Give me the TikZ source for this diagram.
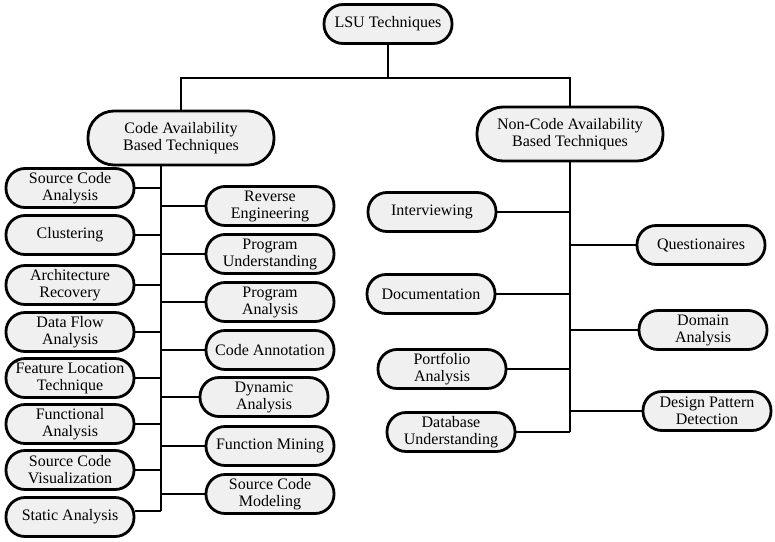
\documentclass[tikz,border=0pt]{standalone}
\usepackage{fontspec}
\setmainfont{Liberation Serif}
\usetikzlibrary{positioning}

\begin{document}
\begin{tikzpicture}[
  x=1pt, y=-1pt,
  line width=2.8pt,
  technique/.style={draw, fill=gray!12, rounded corners=19pt, minimum width=128pt, minimum height=39pt, inner sep=1pt, align=center, font=\fontsize{16}{17}\selectfont},
  group/.style={technique, minimum width=186pt, minimum height=54pt, rounded corners=26pt}
]
\useasboundingbox (0,0) rectangle (775,541);

\node[technique] (lsu) at (388,24) {LSU Techniques};
\node[group] (code) at (181,138) {Code Availability\\Based Techniques};
\node[group] (noncode) at (570,134) {Non-Code Availability\\Based Techniques};

\node[technique] (sca) at (70,188) {Source Code\\Analysis};
\node[technique] (clu) at (70,235) {Clustering};
\node[technique] (arc) at (70,285) {Architecture\\Recovery};
\node[technique] (dfa) at (70,332) {Data Flow\\Analysis};
\node[technique] (flt) at (70,378) {Feature Location\\Technique};
\node[technique] (fua) at (70,424) {Functional\\Analysis};
\node[technique] (scv) at (70,470) {Source Code\\Visualization};
\node[technique] (sta) at (70,517) {Static Analysis};

\node[technique] (rev) at (270,206) {Reverse\\Engineering};
\node[technique] (pru) at (270,254) {Program\\Understanding};
\node[technique] (pra) at (270,302) {Program\\Analysis};
\node[technique] (ann) at (270,350) {Code Annotation};
\node[technique] (dyn) at (264,397) {Dynamic\\Analysis};
\node[technique] (fmi) at (270,446) {Function Mining};
\node[technique] (scm) at (270,494) {Source Code\\Modeling};

\node[technique] (int) at (432,212) {Interviewing};
\node[technique] (doc) at (431,294) {Documentation};
\node[technique] (por) at (442,369) {Portfolio\\Analysis};
\node[technique] (dbu) at (451,432) {Database\\Understanding};

\node[technique] (que) at (701,245) {Questionaires};
\node[technique] (dom) at (703,330) {Domain\\Analysis};
\node[technique] (dpd) at (707,411) {Design Pattern\\Detection};

\coordinate (hub) at (388,78);
\coordinate (ctrunk) at (161,511);
\coordinate (ntrunk) at (570,432);

\draw (lsu.south) -- (hub);
\draw (code.north) |- (hub) -| (noncode.north);

\draw (code.south -| ctrunk) -- (ctrunk);
\draw (sca.east) -- (sca.east -| ctrunk);
\draw (clu.east) -- (clu.east -| ctrunk);
\draw (arc.east) -- (arc.east -| ctrunk);
\draw (dfa.east) -- (dfa.east -| ctrunk);
\draw (flt.east) -- (flt.east -| ctrunk);
\draw (fua.east) -- (fua.east -| ctrunk);
\draw (scv.east) -- (scv.east -| ctrunk);
\draw (ctrunk) -- (ctrunk -| sta.east);
\draw (rev.west) -- (rev.west -| ctrunk);
\draw (pru.west) -- (pru.west -| ctrunk);
\draw (pra.west) -- (pra.west -| ctrunk);
\draw (ann.west) -- (ann.west -| ctrunk);
\draw (dyn.west) -- (dyn.west -| ctrunk);
\draw (fmi.west) -- (fmi.west -| ctrunk);
\draw (scm.west) -- (scm.west -| ctrunk);

\draw (noncode.south) -- (ntrunk);
\draw (int.east) -- (int.east -| ntrunk);
\draw (doc.east) -- (doc.east -| ntrunk);
\draw (por.east) -- (por.east -| ntrunk);
\draw (dbu.east) -- (ntrunk);
\draw (que.west) -- (que.west -| ntrunk);
\draw (dom.west) -- (dom.west -| ntrunk);
\draw (dpd.west) -- (dpd.west -| ntrunk);

\end{tikzpicture}
\end{document}
